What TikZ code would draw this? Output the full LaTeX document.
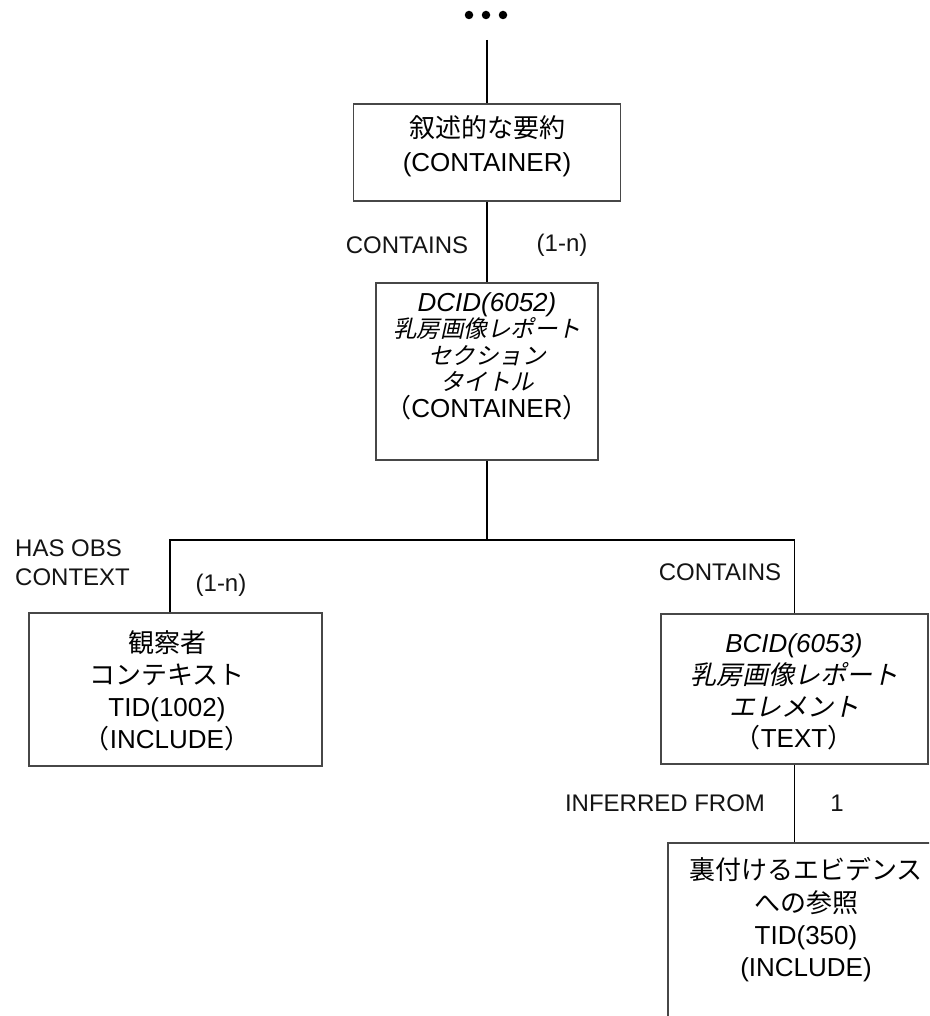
\documentclass[tikz,border=0pt]{standalone}
\usepackage{fontspec}
\setmainfont{Liberation Sans}
\newfontfamily\jp{Noto Sans CJK JP}
\newfontfamily\jpit[FakeSlant=0.22]{Noto Sans CJK JP}
\begin{document}
\lineskiplimit=-50pt
\lineskip=0pt
\begin{tikzpicture}[x=1pt,y=-1pt,
  box/.style={draw=black!72,line width=1.8pt,rectangle,inner sep=0pt},
  txt/.style={align=center,inner sep=0pt,text=black},
  lbl/.style={font=\fontsize{24}{29}\selectfont,inner sep=0pt,text=black!92},
  conn/.style={line width=1.6pt,black},
  dot/.style={circle,fill=black,inner sep=0pt,minimum size=8.5pt}]
\useasboundingbox (0,0) rectangle (929,1016);
\fill[white] (0,0) rectangle (929,1016);
\clip (0,0) rectangle (929,1016);

% top dots
\node[dot] (d1) at (469,15) {};
\node[dot] (d2) at (486,15) {};
\node[dot] (d3) at (503,15) {};
\coordinate (top) at (487,40);

% boxes
\node[box,minimum width=267pt,minimum height=97pt] (b1) at (487,152.5) {};
\node[box,minimum width=222pt,minimum height=177pt] (b2) at (487,371.5) {};
\node[box,minimum width=293pt,minimum height=153pt] (lb) at (175.5,689.5) {};
\node[box,minimum width=267pt,minimum height=150pt] (rb) at (794.5,689) {};
\node[box,minimum width=278pt,minimum height=197pt] (bb) at (807,941.5) {};

% box texts
\node[txt,font=\fontsize{26}{34}\selectfont] (t1) at (487,146)
  {{\jp 叙述的な要約}\\{(CONTAINER)}};
\node[txt,font=\fontsize{26}{26.5}\selectfont] (t2) at (487,356)
  {{\itshape DCID(6052)}\\{\jpit\fontsize{23.5}{26.5}\selectfont 乳房画像レポート}\\{\jpit\fontsize{23.5}{26.5}\selectfont セクション}\\{\jpit\fontsize{23.5}{26.5}\selectfont タイトル}\\{\jp （}CONTAINER{\jp ）}};
\node[txt,font=\fontsize{26}{32}\selectfont] (tl) at (167,691)
  {{\jp 観察者}\\{\jp コンテキスト}\\TID(1002)\\{\jp （}INCLUDE{\jp ）}};
\node[txt,font=\fontsize{26}{31.7}\selectfont] (tr) at (794,692)
  {{\itshape BCID(6053)}\\{\jpit 乳房画像レポート}\\{\jpit エレメント}\\{\jp （}TEXT{\jp ）}};
\node[txt,font=\fontsize{26}{32.3}\selectfont] (tb) at (806,920)
  {{\jp 裏付けるエビデンス}\\{\jp への参照}\\TID(350)\\{(INCLUDE)}};

% connectors
\coordinate (bus) at (487,540);
\draw[conn] (top) -- (top |- b1.north);
\draw[conn] (b1.south) -- (b2.north);
\draw[conn] (b2.south) -- (bus);
\draw[conn] ([xshift=-5.5pt]lb.north) |- (bus) -| (rb.north);
\draw[conn] (rb.south) -- (rb.south |- bb.north);

% labels
\node[lbl] (c1) at (407,245) {CONTAINS};
\node[lbl] (n1) at (562,245) {(1-n)};
\node[lbl,anchor=west,align=left] (hoc) at (15,563) {HAS OBS\\CONTEXT};
\node[lbl] (n2) at (221,585) {(1-n)};
\node[lbl] (c2) at (720,572) {CONTAINS};
\node[lbl] (inf) at (665,803) {INFERRED FROM};
\node[lbl] (one) at (837,803) {1};
\end{tikzpicture}
\end{document}
